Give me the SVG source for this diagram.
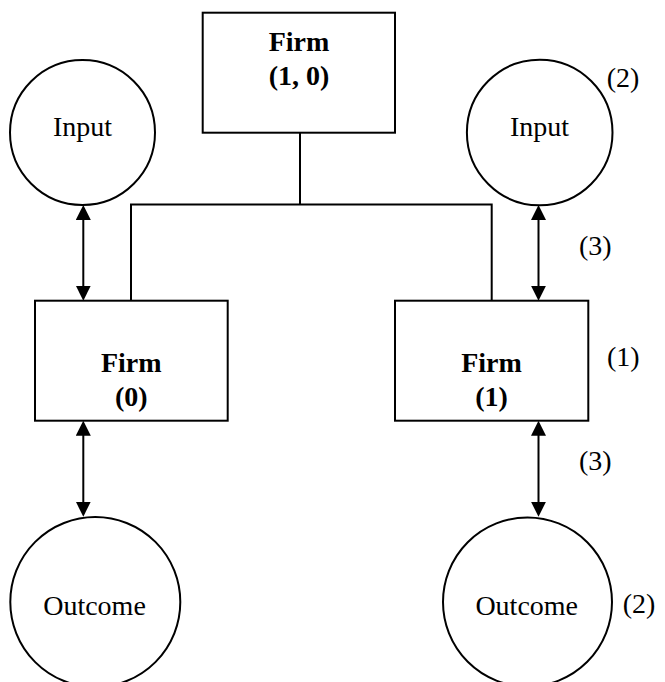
<svg xmlns="http://www.w3.org/2000/svg" width="665" height="682" viewBox="0 0 665 682">
<style>
.box{fill:#fff;stroke:#000;stroke-width:2}
.circ{fill:#fff;stroke:#000;stroke-width:2}
.t{font-family:"Liberation Serif","Times New Roman",serif;font-size:28px;fill:#000;text-anchor:middle}
.b{font-weight:bold}
.lbl{font-family:"Liberation Serif","Times New Roman",serif;font-size:28px;fill:#000}
.ln{fill:none;stroke:#000;stroke-width:2}
.arr{fill:none;stroke:#000;stroke-width:2;marker-start:url(#ah);marker-end:url(#ah)}
</style>
<defs>
<marker id="ah" markerUnits="userSpaceOnUse" markerWidth="15" markerHeight="15" refX="12" refY="7.5" orient="auto-start-reverse" viewBox="0 0 15 15">
<path d="M0,0 L15,7.5 L0,15 z" fill="#000"/>
</marker>
</defs>
<g id="connectors">
<path class="ln" d="M300,132.7 V204.5 M131,300.7 V204.5 H491.7 V300.7"/>
<path class="arr" d="M83.3,208 V297.7"/>
<path class="arr" d="M538.5,208 V297.7"/>
<path class="arr" d="M83.3,423.7 V513.7"/>
<path class="arr" d="M538.5,423.7 V513.7"/>
</g>
<g id="firm10">
<rect class="box" x="202.7" y="12.7" width="192.3" height="120"/>
<text class="t b" x="299" y="51">Firm</text>
<text class="t b" x="299" y="85">(1, 0)</text>
</g>
<g id="input0">
<circle class="circ" cx="82.5" cy="132.5" r="72.5"/>
<text class="t" x="82.5" y="136">Input</text>
</g>
<g id="input1">
<circle class="circ" cx="539.7" cy="132.5" r="72.8"/>
<text class="t" x="539.5" y="136">Input</text>
</g>
<g id="firm0">
<rect class="box" x="35" y="300.7" width="192.7" height="120"/>
<text class="t b" x="131.3" y="372">Firm</text>
<text class="t b" x="131.3" y="406">(0)</text>
</g>
<g id="firm1">
<rect class="box" x="395" y="300.7" width="193.3" height="120"/>
<text class="t b" x="491.5" y="372">Firm</text>
<text class="t b" x="491.5" y="406">(1)</text>
</g>
<g id="outcome0">
<circle class="circ" cx="95.3" cy="602" r="85"/>
<text class="t" x="94.5" y="615">Outcome</text>
</g>
<g id="outcome1">
<circle class="circ" cx="527.5" cy="602" r="84.5"/>
<text class="t" x="526.7" y="615">Outcome</text>
</g>
<g id="labels">
<text class="lbl" x="606.7" y="86.5">(2)</text>
<text class="lbl" x="579" y="255">(3)</text>
<text class="lbl" x="607" y="366">(1)</text>
<text class="lbl" x="579" y="470">(3)</text>
<text class="lbl" x="622.7" y="613">(2)</text>
</g>
</svg>
